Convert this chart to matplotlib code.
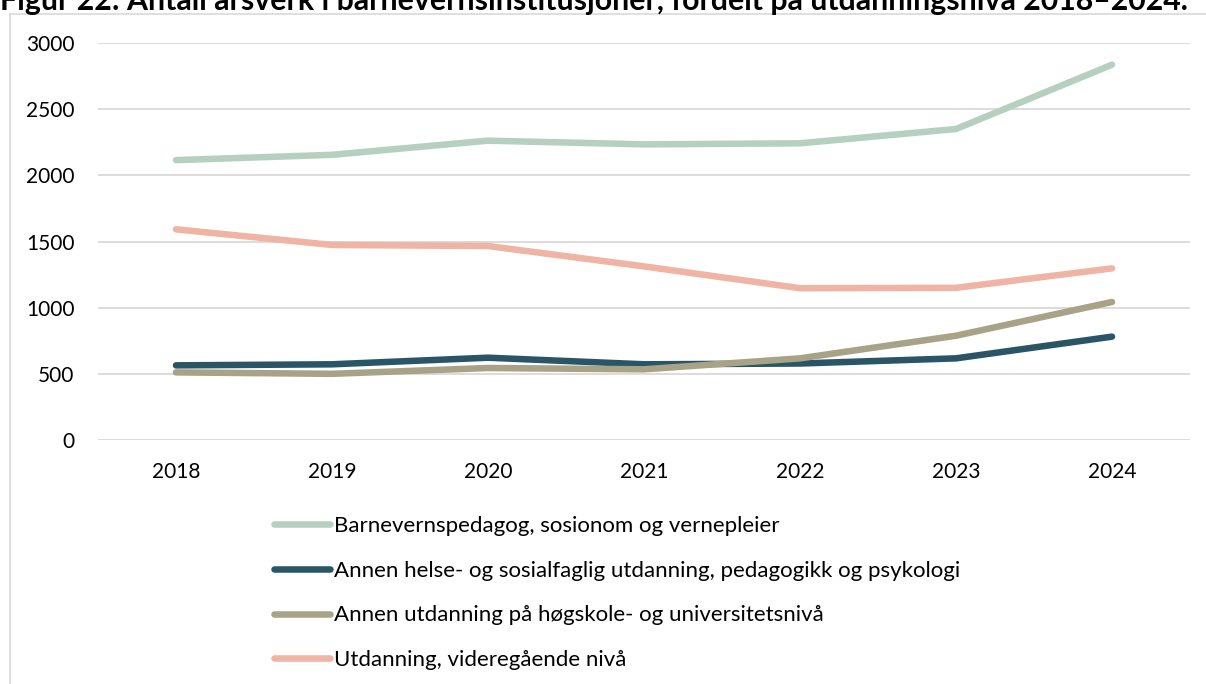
import matplotlib
matplotlib.use("Agg")
import matplotlib.pyplot as plt
from matplotlib.lines import Line2D

plt.rcParams['font.family'] = ['Lato', 'DejaVu Sans']

# data
years = ['2018', '2019', '2020', '2021', '2022', '2023', '2024']
barnevern = [2115, 2155, 2262, 2234, 2242, 2350, 2836]
annen_helse = [564, 572, 622, 572, 578, 617, 781]
annen_hogskole = [511, 500, 544, 534, 617, 788, 1043]
videregaende = [1592, 1474, 1466, 1312, 1147, 1150, 1297]

labels = ['Barnevernspedagog, sosionom og vernepleier',
          'Annen helse- og sosialfaglig utdanning, pedagogikk og psykologi',
          'Annen utdanning på høgskole- og universitetsnivå',
          'Utdanning, videregående nivå']
colors = ['#b6d0bf', '#2a5567', '#a8a386', '#efb4a3']
series = [barnevern, annen_helse, annen_hogskole, videregaende]

W, H = 1206, 684
fig = plt.figure(figsize=(W / 100, H / 100), dpi=100)
ax = fig.add_axes([98 / W, 1 - 440 / H, (1190 - 98) / W, (440 - 43) / H])

x = range(len(years))
handles = []
for vals, col, lab in zip(series, colors, labels):
    ln, = ax.plot(x, vals, color=col, lw=4.7, solid_capstyle='round',
                  solid_joinstyle='round', label=lab)
    handles.append(ln)

ax.set_xlim(-0.5, len(years) - 0.5)
ax.set_ylim(0, 3000)
ax.set_yticks(range(0, 3001, 500))
ax.set_xticks(list(x))
ax.set_xticklabels(years)
ax.grid(axis='y', color='#d9d9d9', lw=1.3)
ax.set_axisbelow(True)
for s in ax.spines.values():
    s.set_visible(False)
ax.tick_params(axis='y', length=0, pad=17, labelsize=15)
ax.tick_params(axis='x', length=0, pad=16, labelsize=15)

# legend below the plot
fig.legend(handles=handles, loc='upper left',
           bbox_to_anchor=(274 / W, 1 - 516 / H), frameon=False,
           fontsize=16, handlelength=2.5, handletextpad=0.2,
           labelspacing=1.11, borderpad=0, borderaxespad=0)

# chart frame (top and left edges visible)
fig.add_artist(Line2D([10 / W, 1], [1 - 13.5 / H, 1 - 13.5 / H],
                      color='#d9d9d9', lw=1.2, transform=fig.transFigure))
fig.add_artist(Line2D([10 / W, 10 / W], [0, 1 - 13.5 / H],
                      color='#d9d9d9', lw=1.2, transform=fig.transFigure))

# title sits partly above the top edge, as in the source image
fig.text(0, 1 - 10 / H,
         'Figur 22: Antall årsverk i barnevernsinstitusjoner, fordelt på utdanningsnivå 2018–2024.',
         fontsize=21.8, fontweight='bold', ha='left', va='baseline')

fig.savefig('out.png', dpi=100)
